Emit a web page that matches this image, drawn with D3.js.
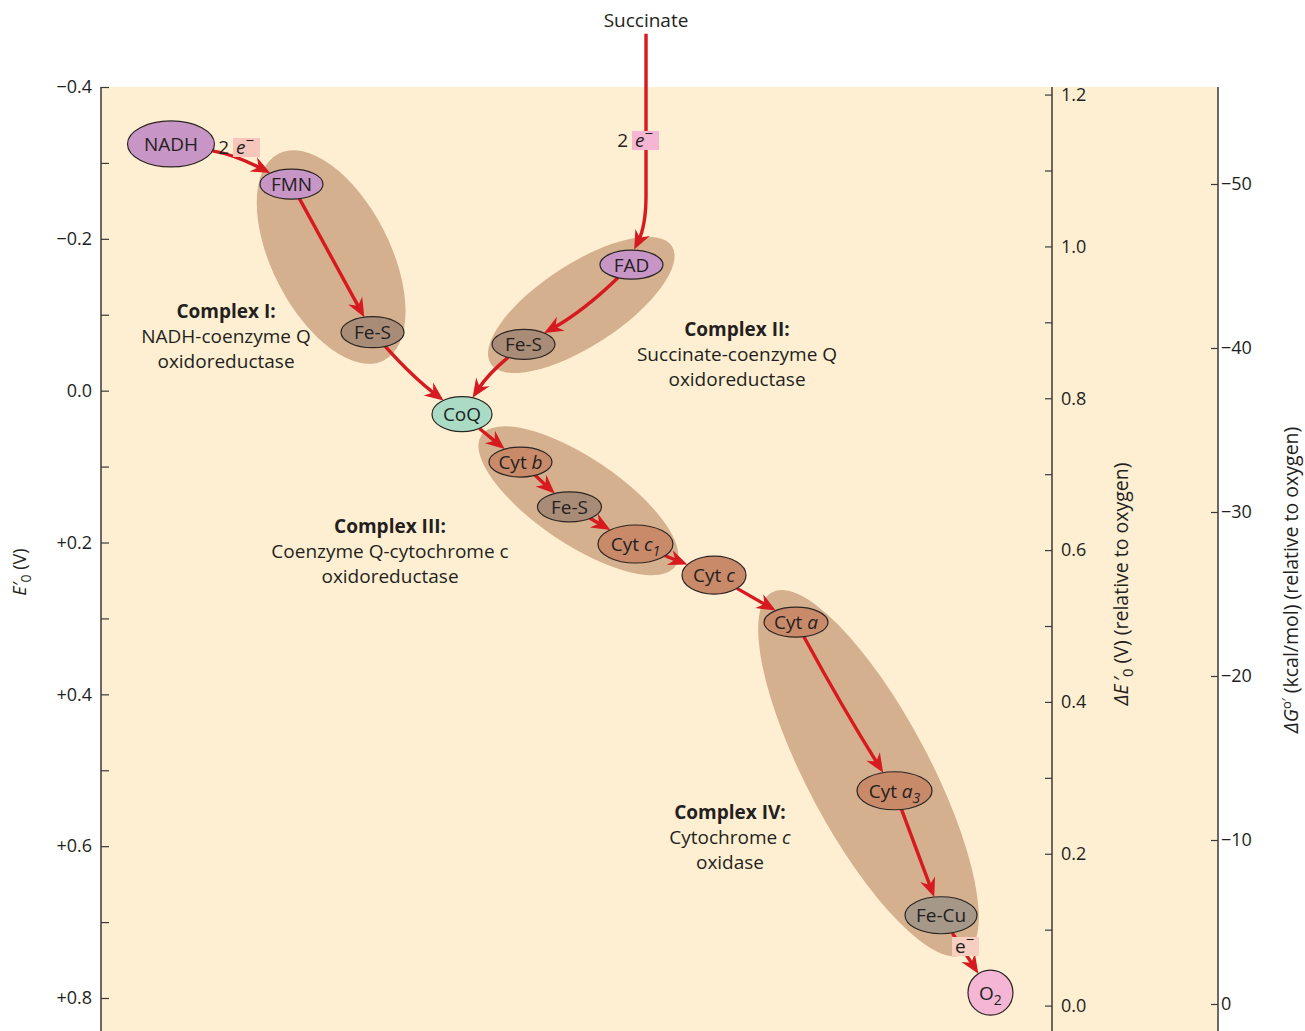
<!DOCTYPE html>
<html>
<head>
<meta charset="utf-8">
<script src="https://cdn.jsdelivr.net/npm/d3@7"></script>
<style>
  body { margin: 0; background: #fff; }
  text { font-family: "Open Sans", "Noto Sans", sans-serif; fill: #231f20; }
</style>
</head>
<body>
<div id="graph"></div>
<script>
// electron carriers, their standard reduction potentials E'0 (V)
var carriers = ["NADH", "FMN", "Fe-S", "FAD", "Fe-S", "CoQ", "Cyt b", "Fe-S",
                "Cyt c1", "Cyt c", "Cyt a", "Cyt a3", "Fe-Cu", "O2"];
var potentials = [-0.325, -0.272, -0.077, -0.166, -0.061, 0.031, 0.094, 0.153,
                  0.202, 0.243, 0.305, 0.527, 0.691, 0.793];
var carrierGroup = ["nad", "nad", "fes", "nad", "fes", "coq", "cyt", "fes",
                    "cyt", "cyt", "cyt", "cyt", "fecu", "o2"];
// electron transfers [from, to]
var transfers = [[0, 1], [1, 2], [2, 5], [3, 4], [4, 5], [5, 6], [6, 7], [7, 8],
                 [8, 9], [9, 10], [10, 11], [11, 12], [12, 13]];
var succinatePotential = -0.47;

// axis ticks
var eTicks = [-0.4, -0.2, 0.0, 0.2, 0.4, 0.6, 0.8];
var eMinor = [-0.3, -0.1, 0.1, 0.3, 0.5, 0.7];
var dETicks = [0.0, 0.2, 0.4, 0.6, 0.8, 1.0, 1.2];
var dEMinor = [0.1, 0.3, 0.5, 0.7, 0.9, 1.1];
var dGTicks = [0, -10, -20, -30, -40, -50];
var oxygenPotential = 0.81;

// layout (horizontal place of each carrier, 0-100 across the plot) and shapes
var carrierX = [7.36, 20.03, 28.55, 55.78, 44.43, 37.96, 44.11, 49.26, 56.2, 64.46, 73.08, 83.44, 88.33, 93.53];
var carrierR = [[43.5, 23], [31.5, 15], [31.5, 15.5], [31.5, 14.5], [31.5, 15], [30, 17.5], [31.5, 15],
                [32, 15], [37.5, 19], [32, 19], [32, 15], [37.5, 19], [36, 18.5], [22.5, 22.5]];
var bends = [-10, 0, 6, -9, 7, 0, 0, 0, 0, 0, 3, 0, 0];
var succinateX = 57.31;
var complexes = [
  {x: 24.2, e: -0.176, a: 116, b: 59, angle: 63},
  {x: 50.5, e: -0.113, a: 108, b: 41, angle: -33},
  {x: 50.2, e: 0.145, a: 117, b: 43, angle: 34},
  {x: 80.7, e: 0.504, a: 205, b: 61, angle: 62}
];
var fills = {nad: "#c896c6", fes: "#a98c77", coq: "#aadcc5", cyt: "#c98a6a", fecu: "#a59888", o2: "#f5b5d5"};

var W = 1305, H = 1031;
var svg = d3.select("#graph").append("svg").attr("width", W).attr("height", H);

var y = d3.scaleLinear().domain([-0.4, 0.8]).range([87, 998]);
var x = d3.scaleLinear().domain([0, 100]).range([101, 1052]);
var yDE = d3.scaleLinear().domain([0, 1.2]).range([y(oxygenPotential), y(oxygenPotential - 1.2)]);
var yG = d3.scaleLinear().domain([0, -50]).range([1004, 184]);

var left = 101, mid = 1052, right = 1218;

// background
svg.append("rect").attr("x", left).attr("y", 87).attr("width", right - left).attr("height", H - 87)
    .attr("fill", "#feefd2");

// complexes
svg.append("g").selectAll("ellipse").data(complexes).enter().append("ellipse")
    .attr("transform", function(d) { return "translate(" + x(d.x) + "," + y(d.e) + ") rotate(" + d.angle + ")"; })
    .attr("rx", function(d) { return d.a; })
    .attr("ry", function(d) { return d.b; })
    .attr("fill", "#d4b08e");

// axes (all ticks point into the plot)
function fmtE(v) {
    if (Math.abs(v) < 1e-9) return "0.0";
    return (v < 0 ? "\u2212" : "+") + Math.abs(v).toFixed(1);
}
var axisColor = "#3a3a3a";
function styleAxis(g) {
    g.select(".domain").remove();
    g.selectAll("line").attr("stroke", axisColor).attr("stroke-width", 1.2);
    g.selectAll("text").style("font-size", "18px").attr("fill", "#231f20");
}
svg.append("g").attr("transform", "translate(" + left + ",0)")
    .call(d3.axisLeft(y).tickValues(eTicks).tickFormat(fmtE).tickSize(-8).tickPadding(9)).call(styleAxis);
svg.append("g").attr("transform", "translate(" + left + ",0)")
    .call(d3.axisLeft(y).tickValues(eMinor).tickFormat("").tickSize(-8)).call(styleAxis);
svg.append("g").attr("transform", "translate(" + mid + ",0)")
    .call(d3.axisRight(yDE).tickValues(dETicks).tickFormat(d3.format(".1f")).tickSize(-7).tickPadding(9)).call(styleAxis);
svg.append("g").attr("transform", "translate(" + mid + ",0)")
    .call(d3.axisRight(yDE).tickValues(dEMinor).tickFormat("").tickSize(-7)).call(styleAxis);
svg.append("g").attr("transform", "translate(" + right + ",0)")
    .call(d3.axisRight(yG).tickValues(dGTicks).tickFormat(function(v) { return v < 0 ? "\u2212" + Math.abs(v) : v; })
        .tickSize(-7).tickPadding(3)).call(styleAxis);
[left, mid, right].forEach(function(px) {
    svg.append("line").attr("x1", px).attr("x2", px).attr("y1", 87).attr("y2", H)
        .attr("stroke", axisColor).attr("stroke-width", 1.5);
});

// axis titles
var t1 = svg.append("text").attr("transform", "translate(26,572) rotate(-90)")
    .attr("text-anchor", "middle").style("font-size", "18px");
t1.append("tspan").style("font-style", "italic").text("E\u2032");
t1.append("tspan").attr("dy", 5).style("font-size", "14px").text("0");
t1.append("tspan").attr("dy", -5).text(" (V)");

var t2 = svg.append("text").attr("transform", "translate(1128,584) rotate(-90)")
    .attr("text-anchor", "middle").style("font-size", "19.5px");
t2.append("tspan").style("font-style", "italic").text("\u0394E\u2009\u2032");
t2.append("tspan").attr("dy", 5).style("font-size", "15px").text("0");
t2.append("tspan").attr("dy", -5).text(" (V) (relative to oxygen)");

var t3 = svg.append("text").attr("transform", "translate(1298,580) rotate(-90)")
    .attr("text-anchor", "middle").style("font-size", "19.5px");
t3.append("tspan").style("font-style", "italic").text("\u0394G");
t3.append("tspan").attr("dy", -7).style("font-size", "13px").text("o\u2032");
t3.append("tspan").attr("dy", 7).text(" (kcal/mol) (relative to oxygen)");

// arrowhead
svg.append("defs").append("marker")
    .attr("id", "head").attr("markerUnits", "userSpaceOnUse")
    .attr("viewBox", "-20 -9 22 18").attr("refX", -9).attr("refY", 0)
    .attr("markerWidth", 22).attr("markerHeight", 18).attr("orient", "auto")
  .append("path").attr("d", "M0,0 L-19,-8 L-13,0 L-19,8 Z").attr("fill", "#d71920");

function centre(i) { return [x(carrierX[i]), y(potentials[i])]; }
function edge(i, tx, ty) {
    var c = centre(i), dx = tx - c[0], dy = ty - c[1];
    var r = carrierR[i];
    var t = 1 / Math.sqrt((dx / r[0]) * (dx / r[0]) + (dy / r[1]) * (dy / r[1]));
    return [c[0] + dx * t, c[1] + dy * t];
}
function arrowPath(p0, p1, c) {
    var dx = p1[0] - c[0], dy = p1[1] - c[1], len = Math.sqrt(dx * dx + dy * dy);
    var e = [p1[0] - dx / len * 9, p1[1] - dy / len * 9];
    return "M" + p0[0] + "," + p0[1] + " Q" + c[0] + "," + c[1] + " " + e[0] + "," + e[1];
}

var arrows = svg.append("g");
transfers.forEach(function(t, k) {
    var a = centre(t[0]), b = centre(t[1]);
    var dx = b[0] - a[0], dy = b[1] - a[1], len = Math.sqrt(dx * dx + dy * dy);
    var c = [(a[0] + b[0]) / 2 - dy / len * bends[k], (a[1] + b[1]) / 2 + dx / len * bends[k]];
    var p0 = edge(t[0], c[0], c[1]), p1 = edge(t[1], c[0], c[1]);
    arrows.append("path").attr("d", arrowPath(p0, p1, c))
        .attr("fill", "none").attr("stroke", "#d71920").attr("stroke-width", 3.4)
        .attr("marker-end", "url(#head)");
});

// succinate feeding FAD
var sx = x(succinateX), sy = y(succinatePotential);
var fadTop = edge(3, centre(3)[0] + 8, centre(3)[1] - 20);
arrows.append("path")
    .attr("d", "M" + sx + "," + sy + " L" + sx + "," + (fadTop[1] - 55) +
        " Q" + sx + "," + (fadTop[1] - 25) + " " + (fadTop[0] + 1) + "," + (fadTop[1] - 9))
    .attr("fill", "none").attr("stroke", "#d71920").attr("stroke-width", 3.4)
    .attr("marker-end", "url(#head)");
svg.append("text").attr("x", sx).attr("y", sy - 7).attr("text-anchor", "middle")
    .style("font-size", "19px").text("Succinate");

// electron labels
function eLabel(px, py, two, boxColor, italic) {
    var g = svg.append("g");
    g.append("rect").attr("x", px).attr("y", py - 16).attr("width", 27).attr("height", 19).attr("fill", boxColor);
    if (two) g.append("text").attr("x", px - 4).attr("y", py).attr("text-anchor", "end")
        .style("font-size", "19px").text("2");
    var t = g.append("text").attr("x", px + 3).attr("y", py).style("font-size", "19px");
    t.append("tspan").style("font-style", italic ? "italic" : "normal").text("e");
    t.append("tspan").attr("dy", -8).style("font-size", "15px").text("\u2212");
}
eLabel(233, 154, true, "#f6c6bc", true);
eLabel(632, 147, true, "#f6b6d3", true);
eLabel(952, 953, false, "#f7cfc0", false);

// carriers
var nodes = svg.append("g").selectAll("g").data(carriers).enter().append("g")
    .attr("transform", function(d, i) { return "translate(" + centre(i)[0] + "," + centre(i)[1] + ")"; });
nodes.append("ellipse")
    .attr("rx", function(d, i) { return carrierR[i][0]; })
    .attr("ry", function(d, i) { return carrierR[i][1]; })
    .attr("fill", function(d, i) { return fills[carrierGroup[i]]; })
    .attr("stroke", "#2b2523").attr("stroke-width", 1.2);
nodes.append("text").attr("text-anchor", "middle").attr("dy", 7).style("font-size", "19px")
    .each(function(d) {
        var t = d3.select(this);
        var m = d.match(/^Cyt (\w)(\d?)$/);
        if (m) {
            t.append("tspan").text("Cyt ");
            t.append("tspan").style("font-style", "italic").text(m[1]);
            if (m[2]) t.append("tspan").attr("dy", 5).style("font-style", "italic").style("font-size", "14px").text(m[2]);
        } else if (d === "O2") {
            t.append("tspan").text("O");
            t.append("tspan").attr("dy", 5).style("font-size", "14px").text("2");
        } else {
            t.text(d);
        }
    });

// complex captions
var captions = [
  {x: 226, y: 318, lines: ["Complex I:", "NADH-coenzyme Q", "oxidoreductase"]},
  {x: 737, y: 336, lines: ["Complex II:", "Succinate-coenzyme Q", "oxidoreductase"]},
  {x: 390, y: 533, lines: ["Complex III:", "Coenzyme Q-cytochrome c", "oxidoreductase"]},
  {x: 730, y: 819, lines: ["Complex IV:", "Cytochrome |c", "oxidase"]}
];
captions.forEach(function(c) {
    c.lines.forEach(function(line, i) {
        var t = svg.append("text").attr("x", c.x).attr("y", c.y + i * 25).attr("text-anchor", "middle")
            .style("font-size", "19px").style("font-weight", i === 0 ? "bold" : "normal");
        var parts = line.split("|");
        t.append("tspan").text(parts[0]);
        if (parts[1]) t.append("tspan").style("font-style", "italic").text(parts[1]);
    });
});
</script>
</body>
</html>
